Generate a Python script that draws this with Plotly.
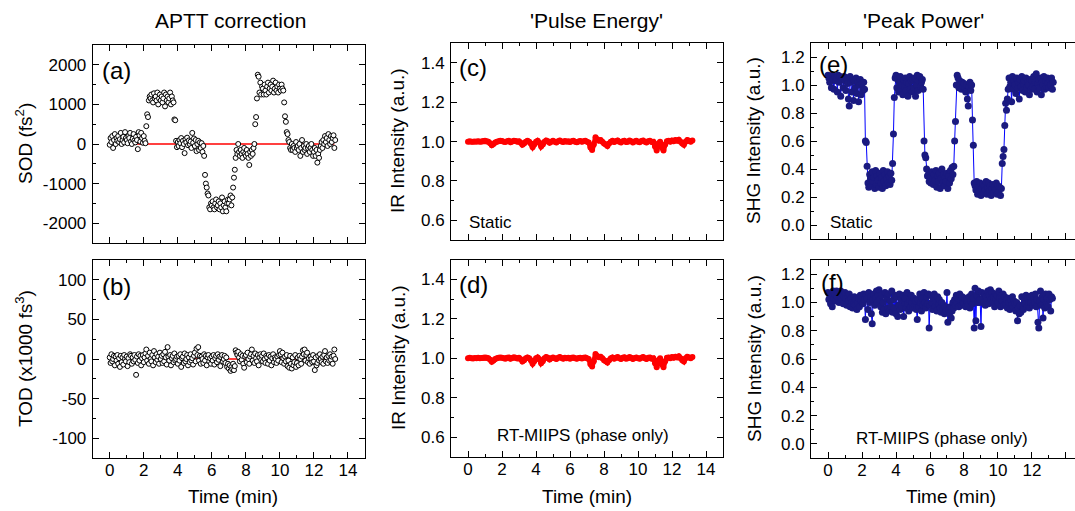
import plotly.graph_objects as go

# ---- data (time step 0.05 min, one row = 1 min) ----
SOD = [
    -20, 150, 50, 200, -100, 100, 250, 0, 150, 80, 200, 50, 120, 280, 0, 100, 180, 40, 300, 150,
    100, 20, 200, 150, 280, 60, 0, 130, 250, 90, 40, 180, 100, -130, 300, 220, 60, 280, 150, 30,
    200, 80, 20, 450, 750, 680, 1100, 1200, 1150, 1250, 1100, 1050, 1280, 1150, 1200, 1100, 1300, 1000, 1150, 1250,
    1100, 1200, 1050, 1150, 1300, 950, 1250, 1100, 1200, 1050, 1150, 1300, 1000, 1200, 1100, 1050, 620, 600, 80, -80,
    50, -50, 100, 20, 150, -80, 80, 0, -230, 120, 40, 160, -30, 90, 0, 60, -100, 280, 30, 140,
    -50, 100, -180, 0, 80, -150, 40, -100, 20, -200, -50, -300, -780, -1000, -1100, -1250, -1300, -1600, -1650, -1500,
    -1550, -1450, -1600, -1650, -1500, -1400, -1600, -1550, -1450, -1650, -1500, -1600, -1350, -1700, -1550, -1450, -1600, -1700, -1500, -1400,
    -1500, -1400, -1300, -1550, -1350, -1100, -850, -650, -350, -150, -250, 0, -200, -300, -150, -250, -350, -200, -100, -250,
    -300, -150, -250, -350, -530, -200, -300, -150, -250, -100, 0, 500, 680, 1150, 1750, 1700, 1300, 1550, 1250, 1450,
    1400, 1250, 1500, 1350, 1250, 1450, 1550, 1300, 1400, 1500, 1350, 1450, 1600, 1300, 1400, 1550, 1350, 1450, 1300, 1500,
    1400, 1350, 1500, 1400, 1350, 1050, 700, 560, 300, 250, 100, 50, -100, -150, 0, -150, -50, -100, -200, 50,
    -100, -50, -150, 0, -300, -100, 100, -200, -50, -150, -100, 0, -250, -100, -50, -200, -100, 0, -150, -300,
    -200, -100, -300, -150, -470, -250, -350, -150, -50, 50, -100, 100, 0, 200, 50, 150, -50, 250, 100, 0,
    200, 50, 150, 220, -100, 100,
]
TOD = [
    2, -5, 6, -3, 0, 4, -8, 3, -2, 5, -6, 1, -10, 4, -4, 2, -7, 5, 0, -3,
    3, -9, 1, -4, 6, 4, -6, 2, -3, 5, -1, -20, 3, -5, 6, -2, 4, -8, 1, 5,
    -4, 2, 7, 12, -2, 4, -6, 8, 0, -3, 5, -8, 10, 2, -4, 6, -1, 3, -6, 8,
    0, 4, -5, 6, -3, 9, 2, -7, 15, 3, -2, 5, -8, 1, 4, -4, 7, -2, 0, 3,
    -6, 4, -2, 6, -10, 1, 3, -5, 7, -3, 0, 5, -8, 2, -4, 6, -2, 1, -7, 4,
    8, -3, 13, 5, 15, -2, 4, -6, 3, 0, -5, 6, -2, 4, -8, 2, 5, -3, 1, -6,
    3, -2, 5, -7, 1, 4, -4, 6, -1, 3, -9, 2, 5, -3, 0, 4, -5, 2, -10, -6,
    -12, -8, -15, -10, -13, -6, -14, -9, 11, 8, 5, 9, 2, -3, 6, -1, 4, -6, -11, 3,
    5, -4, 8, 0, -6, 3, 6, 12, -2, 4, -5, 7, 1, -3, 5, -8, 2, 6, -1, 4,
    -3, 7, 0, -5, 4, 2, -6, 5, -2, 3, -8, 1, 6, -4, 2, 0, -5, 3, -2, 5,
    10, 6, -4, 8, 1, -6, 3, -3, 5, -9, -2, -11, 4, -6, -12, 2, -8, -4, 5, -10,
    -5, 2, -8, 4, 0, -6, 3, 11, 6, 12, -2, 5, 8, -4, 1, -6, 3, 0, -4, 5,
    -3, -14, 2, -8, -5, 4, -2, 6, 0, -4, 3, -6, 5, 10, -3, 2, -5, 4, -2, 6,
    -1, 3, -6, 4, 12, 0,
]
SHG_STATIC = [
    1.07, 1.05, 1.02, 1.06, 0.98, 1.07, 1.04, 0.97, 1.06, 1.03, 1.05, 0.95, 1.07, 1.02, 1.06, 0.92, 1.04, 1.05, 0.98, 1.06,
    1.03, 0.96, 1.05, 1.01, 0.9, 0.85, 1.06, 1.02, 0.95, 1.04, 0.89, 1.03, 0.98, 1.05, 0.94, 1.02, 0.88, 1.0, 1.04, 0.93,
    1.01, 0.96, 1.02, 0.97, 0.6, 0.59, 0.42, 0.3, 0.27, 0.36, 0.33, 0.28, 0.38, 0.31, 0.34, 0.26, 0.39, 0.29, 0.35, 0.32,
    0.27, 0.37, 0.3, 0.34, 0.26, 0.39, 0.31, 0.36, 0.28, 0.33, 0.38, 0.3, 0.35, 0.29, 0.37, 0.32, 0.44, 0.65, 0.91, 1.05,
    1.07, 0.98, 1.04, 0.95, 1.02, 1.06, 0.97, 1.0, 0.93, 1.04, 0.99, 1.05, 0.96, 1.02, 0.92, 1.01, 1.06, 0.97, 1.03, 0.95,
    1.04, 0.98, 1.05, 0.92, 1.0, 1.07, 0.96, 1.03, 1.06, 0.99, 1.02, 1.04, 0.97, 0.6, 0.5, 0.48, 0.4, 0.35, 0.36, 0.31,
    0.34, 0.3, 0.38, 0.33, 0.29, 0.36, 0.32, 0.39, 0.27, 0.35, 0.31, 0.37, 0.26, 0.33, 0.4, 0.3, 0.36, 0.28, 0.34, 0.31,
    0.37, 0.26, 0.35, 0.3, 0.39, 0.33, 0.41, 0.36, 0.42, 0.6, 0.74, 1.0, 1.07, 1.05, 0.98, 1.03, 1.0, 0.97, 1.02, 0.99,
    1.01, 0.97, 0.95, 1.0, 0.9, 0.85, 0.99, 1.02, 0.96, 1.0, 0.75, 0.57, 0.3, 0.28, 0.25, 0.31, 0.22, 0.27, 0.24, 0.3,
    0.21, 0.26, 0.29, 0.23, 0.28, 0.25, 0.31, 0.22, 0.27, 0.3, 0.24, 0.28, 0.21, 0.26, 0.29, 0.23, 0.27, 0.25, 0.3, 0.22,
    0.28, 0.24, 0.27, 0.21, 0.26, 0.44, 0.49, 0.54, 0.71, 0.87, 0.82, 0.9, 0.97, 1.05, 0.99, 1.02, 0.88, 1.06, 0.97, 1.03,
    1.0, 0.94, 1.05, 0.98, 1.02, 0.9, 1.04, 0.99, 1.06, 0.96, 1.01, 1.03, 0.95, 1.05, 0.98, 1.02, 1.0, 0.93, 1.04, 0.97,
    1.03, 0.99, 1.06, 0.97, 1.02, 1.08, 0.95, 1.01, 1.04, 0.98, 1.05, 0.93, 1.02, 1.0, 1.06, 0.97, 1.03, 0.99, 1.05, 1.01,
    0.98, 1.04, 1.0, 1.05, 0.97, 1.02,
]
SHG_RTMIIPS = [
    1.07, 1.02, 1.05, 0.99, 1.06, 0.97, 1.08, 1.03, 1.06, 1.01, 1.08, 1.04, 1.07, 1.0, 1.05, 1.08, 1.02, 1.06, 0.99, 1.04,
    1.07, 1.03, 0.98, 1.05, 1.01, 1.06, 0.97, 1.03, 1.0, 0.96, 0.99, 1.04, 0.98, 1.02, 0.95, 1.0, 1.03, 0.97, 1.05, 1.01,
    1.04, 0.99, 1.06, 1.02, 0.88, 1.05, 1.03, 0.95, 1.07, 1.0, 1.04, 0.92, 0.85, 1.02, 1.06, 0.98, 1.03, 1.08, 1.0, 1.05,
    1.09, 1.02, 0.97, 1.05, 0.93, 1.0, 0.95, 1.07, 0.92, 1.03, 0.96, 1.06, 0.94, 1.01, 0.97, 1.08, 0.93, 1.02, 0.96, 1.05,
    0.92, 1.04, 0.9, 0.98, 1.06, 0.95, 1.02, 0.97, 1.05, 0.9, 1.0, 1.03, 0.96, 1.07, 0.99, 0.94, 1.02, 0.97, 1.05, 1.0,
    0.96, 1.03, 0.98, 1.01, 0.95, 0.88, 1.02, 0.97, 1.06, 1.0, 0.94, 1.03, 0.98, 1.07, 1.0, 0.96, 1.04, 0.99, 1.06, 0.82,
    0.98, 1.05, 1.0, 0.95, 1.03, 1.06, 0.97, 1.01, 0.94, 1.04, 0.99, 1.02, 0.96, 0.93, 1.0, 0.95, 0.98, 0.92, 0.97, 0.94,
    1.07, 0.86, 0.95, 0.92, 0.97, 0.89, 0.94, 1.0, 0.96, 1.02, 0.98, 1.05, 1.0, 1.03, 0.97, 1.06, 1.01, 0.98, 1.04, 1.0,
    0.99, 1.03, 0.97, 1.02, 1.0, 0.98, 1.04, 0.96, 1.01, 1.06, 0.99, 1.03, 0.82, 1.1, 0.87, 1.05, 1.0, 1.08, 1.0, 1.02,
    0.83, 1.07, 1.03, 1.0, 1.06, 0.98, 1.04, 1.01, 1.08, 0.99, 1.05, 1.09, 1.02, 1.07, 1.0, 1.04, 0.97, 1.06, 1.02, 1.05,
    1.0, 1.08, 1.03, 0.97, 1.05, 1.01, 1.06, 0.98, 1.04, 0.99, 1.02, 0.96, 1.03, 1.0, 0.95, 1.02, 0.98, 1.04, 0.97, 1.01,
    0.99, 0.94, 1.0, 0.87, 0.96, 0.92, 0.98, 0.93, 1.04, 0.97, 0.95, 1.02, 0.99, 1.05, 0.97, 1.03, 1.0, 0.96, 1.04, 1.0,
    1.05, 0.98, 1.03, 1.0, 1.06, 0.97, 1.02, 0.86, 0.82, 1.01, 1.08, 0.98, 1.04, 0.89, 1.02, 0.96, 1.06, 1.0, 1.03, 0.97,
    1.06, 1.02, 0.94, 1.04, 1.03,
]
# IR intensity, step 0.1 min (c and d show the same trace)
IR_INTENSITY = [
    1.0, 1.002, 1.0, 0.999, 1.001, 1.0, 1.002, 1.0, 1.001, 1.003,
    1.004, 1.002, 1.0, 0.992, 0.982, 0.988, 0.996, 1.0, 1.002, 1.004,
    1.003, 1.0, 0.998, 1.002, 1.004, 0.997, 1.001, 1.005, 1.003, 0.999,
    1.002, 0.995, 0.984, 0.99, 1.0, 1.004, 1.0, 0.99, 0.972, 0.985,
    1.0, 1.004, 0.995, 0.975, 0.985, 1.0, 1.006, 1.002, 0.994, 1.0,
    1.004, 1.0, 0.996, 1.002, 1.006, 1.001, 0.998, 1.003, 1.0, 1.002,
    0.998, 1.002, 1.004, 1.0, 0.997, 1.001, 1.003, 0.999, 1.002, 1.004,
    1.0, 0.996, 0.97, 0.958, 0.985, 1.022, 1.012, 1.005, 1.008, 1.0,
    0.99, 0.985, 0.978, 0.99, 1.0, 1.004, 0.998, 1.002, 1.006, 1.0,
    0.996, 1.002, 1.005, 0.998, 1.0, 1.006, 1.002, 0.996, 1.001, 1.004,
    1.0, 0.997, 1.003, 1.006, 1.0, 0.996, 1.002, 1.004, 0.998, 1.0,
    0.975, 0.955, 0.99, 1.0, 0.97, 0.955, 0.985, 1.002, 1.004, 1.0,
    1.006, 1.002, 1.008, 1.004, 1.01, 1.0, 0.99, 0.984, 1.0, 1.008,
    1.004, 1.0, 1.006,
]
TARGET_TIME = [0.2, 13.2]
TARGET_ZERO = [0, 0]

SOD_TICKS = [-2000, -1000, 0, 1000, 2000]
SOD_LABELS = ["-2000", "-1000", "0", "1000", "2000"]
TOD_TICKS = [-100, -50, 0, 50, 100]
TOD_LABELS = ["-100", "-50", "0", "50", "100"]
COL_TITLES = ["APTT correction", "'Pulse Energy'", "'Peak Power'"]

W, H = 1075, 511
FONT = "Arial, 'Liberation Sans', sans-serif"


def times(values, step):
    return [round(i * step, 2) for i in range(len(values))]


def px(x):
    return x / W


def py(y):
    return 1 - y / H


fig = go.Figure()

# (a) SOD
fig.add_trace(go.Scatter(x=TARGET_TIME, y=TARGET_ZERO, mode="lines",
                         line=dict(color="red", width=1.5), xaxis="x", yaxis="y"))
fig.add_trace(go.Scatter(x=times(SOD, 0.05), y=SOD, mode="markers",
                         marker=dict(size=5, color="white", line=dict(color="black", width=1)),
                         xaxis="x", yaxis="y"))
# (b) TOD
fig.add_trace(go.Scatter(x=TARGET_TIME, y=TARGET_ZERO, mode="lines",
                         line=dict(color="red", width=1.5), xaxis="x2", yaxis="y2"))
fig.add_trace(go.Scatter(x=times(TOD, 0.05), y=TOD, mode="markers",
                         marker=dict(size=5, color="white", line=dict(color="black", width=1)),
                         xaxis="x2", yaxis="y2"))
# (c), (d) IR intensity
for ax in ["3", "4"]:
    fig.add_trace(go.Scatter(x=times(IR_INTENSITY, 0.1), y=IR_INTENSITY, mode="lines+markers",
                             line=dict(color="red", width=5), marker=dict(size=6, color="red"),
                             xaxis="x" + ax, yaxis="y" + ax))
# (e), (f) SHG intensity
for ax, vals in [("5", SHG_STATIC), ("6", SHG_RTMIIPS)]:
    fig.add_trace(go.Scatter(x=times(vals, 0.05), y=vals, mode="lines+markers",
                             line=dict(color="#0000ff", width=1),
                             marker=dict(size=7, color="#1a1a80"),
                             xaxis="x" + ax, yaxis="y" + ax))

# pixel boxes of each panel: (left, right, top, bottom)
boxes = {
    "": (92.7, 365, 45, 243),
    "2": (92.7, 365, 260, 458),
    "3": (451, 723, 43.3, 240),
    "4": (451, 723, 259.5, 457),
    "5": (811, 1075, 43, 239),
    "6": (811, 1075, 260, 458),
}
yranges = {"": [-2500, 2500], "2": [-125, 125], "3": [0.5, 1.5], "4": [0.5, 1.5],
           "5": [-0.1, 1.3], "6": [-0.1, 1.3]}
tickfont = dict(family=FONT, size=17, color="black")

layout = {}
for key, (l, r, t, b) in boxes.items():
    bottom_row = key in ("2", "4", "6")
    right_col = key in ("5", "6")
    xr = [-1, 14.53] if right_col else [-1, 15]
    layout["xaxis" + key] = dict(
        domain=[px(l), min(px(r), 1.0)], anchor="y" + key, range=xr, automargin=False,
        showline=True, linecolor="black", linewidth=1, mirror="allticks",
        ticks="inside", ticklen=6, tickcolor="black", tick0=0, dtick=2,
        minor=dict(ticks="inside", ticklen=3, dtick=1, tickcolor="black"),
        showgrid=False, zeroline=False, showticklabels=bottom_row,
        tickfont=tickfont, ticklabelstandoff=-3,
    )
    y = dict(
        domain=[py(b), py(t)], anchor="x" + key, range=yranges[key], automargin=False,
        showline=True, linecolor="black", linewidth=1,
        mirror=False if right_col else "allticks",
        ticks="inside", ticklen=6, tickcolor="black",
        showgrid=False, zeroline=False, tickfont=tickfont, ticklabelstandoff=2,
    )
    if key == "":
        y.update(tickvals=SOD_TICKS, ticktext=SOD_LABELS,
                 minor=dict(ticks="inside", ticklen=3, dtick=500, tickcolor="black"))
    elif key == "2":
        y.update(tickvals=TOD_TICKS, ticktext=TOD_LABELS,
                 minor=dict(ticks="inside", ticklen=3, dtick=25, tickcolor="black"))
    elif key in ("3", "4"):
        y.update(tick0=0.6, dtick=0.2, tickformat=".1f",
                 minor=dict(ticks="inside", ticklen=3, dtick=0.1, tickcolor="black"))
    else:
        y.update(tick0=0, dtick=0.2, tickformat=".1f",
                 minor=dict(ticks="inside", ticklen=3, dtick=0.1, tickcolor="black"))
    layout["yaxis" + key] = y

ann = []
for text, x in zip(COL_TITLES, [230, 596, 923]):
    ann.append(dict(text=text, x=px(x), y=py(20), font=dict(size=21)))
for text, x in [("Time (min)", 233), ("Time (min)", 587), ("Time (min)", 951)]:
    ann.append(dict(text=text, x=px(x), y=py(496), font=dict(size=19)))
ytitles = [
    ("SOD (fs<sup>2</sup>)", 24, 144),
    ("TOD (x1000 fs<sup>3</sup>)", 24, 359),
    ("IR Intensity (a.u.)", 398, 141),
    ("IR Intensity (a.u.)", 398, 358),
    ("SHG Intensity (a.u.)", 754, 141),
    ("SHG Intensity (a.u.)", 754, 359),
]
for text, x, y in ytitles:
    ann.append(dict(text=text, x=px(x), y=py(y), textangle=-90, font=dict(size=19)))
for text, x, y in [("(a)", 100, 55), ("(b)", 100, 271), ("(c)", 457, 52),
                   ("(d)", 457, 269), ("(e)", 817, 49), ("(f)", 819, 267)]:
    ann.append(dict(text=text, x=px(x), y=py(y), xanchor="left", yanchor="top",
                    font=dict(size=24)))
for text, x, y in [("Static", 467, 222), ("Static", 828, 222)]:
    ann.append(dict(text=text, x=px(x), y=py(y), xanchor="left", font=dict(size=17)))
for x, y in [(583, 435), (942, 438)]:
    ann.append(dict(text="RT-MIIPS (phase only)", x=px(x), y=py(y), font=dict(size=17)))
for a in ann:
    a.setdefault("xanchor", "center")
    a.setdefault("yanchor", "middle")
    a.update(xref="paper", yref="paper", showarrow=False)
    a["font"].update(family=FONT, color="black")

fig.update_layout(
    template="none", width=W, height=H, margin=dict(l=0, r=0, t=0, b=0, autoexpand=False),
    paper_bgcolor="white", plot_bgcolor="white", showlegend=False,
    font=dict(family=FONT, color="black"), annotations=ann, **layout,
)

fig.write_html("out.html", config={"displayModeBar": False},
               post_script="document.body.style.margin='0px';")
